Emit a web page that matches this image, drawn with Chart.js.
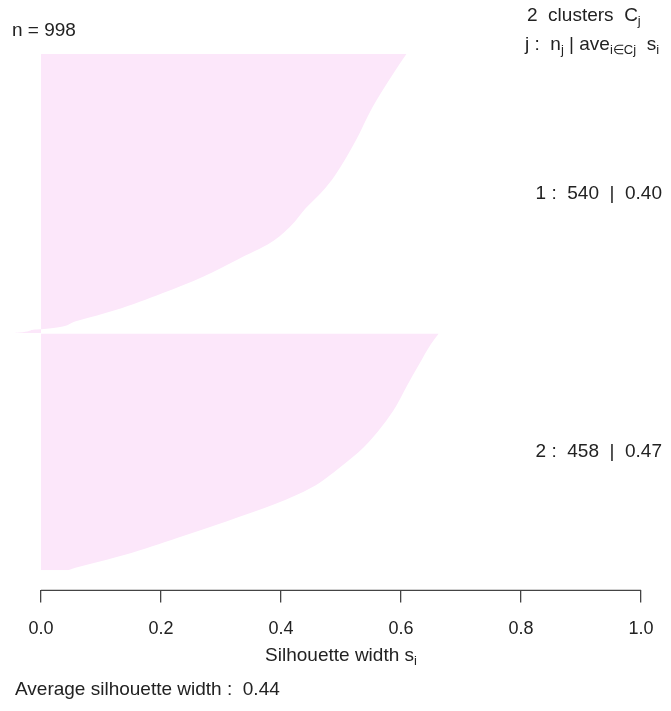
<!DOCTYPE html>
<html>
<head>
<meta charset="utf-8">
<script src="https://cdn.jsdelivr.net/npm/chart.js@4.4.1/dist/chart.umd.min.js"></script>
<style>
  body { margin: 0; background: #fff; }
  canvas { display: block; }
</style>
</head>
<body>
<canvas id="silPlot" width="671" height="711"></canvas>
<script>
// silhouette of 2 clusters, bars sorted by width inside each cluster
const nObs = 998;
const clusterIds = [1, 2];
const clusterSizes = [540, 458];
const clusterAvg = [0.40, 0.47];
const avgWidth = 0.44;

// widths at some ranks (rank = row inside the cluster, from the top)
const c1Rank  = [0, 38, 104, 169, 235, 267, 300, 332, 365, 398, 431, 463, 496, 516, 532, 533, 536, 539, 540];
const c1Width = [0.609, 0.587, 0.552, 0.524, 0.490, 0.468, 0.440, 0.417, 0.383, 0.327, 0.270, 0.202, 0.123, 0.061, 0.005, -0.010, -0.020, -0.035, -0.045];
const c2Rank  = [0, 20, 60, 101, 140, 180, 220, 260, 298, 330, 363, 395, 428, 448, 456, 458];
const c2Width = [0.663, 0.650, 0.630, 0.610, 0.592, 0.568, 0.538, 0.497, 0.451, 0.390, 0.310, 0.228, 0.140, 0.075, 0.050, 0.045];

const xTicks = [0, 0.2, 0.4, 0.6, 0.8, 1.0];
const xTickLabels = ['0.0', '0.2', '0.4', '0.6', '0.8', '1.0'];

const pink = 'rgb(252, 231, 250)';
const ink = '#222';
const font = '"Liberation Sans", Arial, sans-serif';

// cluster 2 starts after cluster 1 plus one empty row
const c2Start = clusterSizes[0] + 1;

const pts1 = c1Rank.map((r, i) => ({ x: c1Width[i], y: r }));
const pts2 = c2Rank.map((r, i) => ({ x: c2Width[i], y: c2Start + r }));

// text with subscripts: parts = [[text, sub?], ...]
function richText(ctx, parts, x, y, align) {
    const big = '19px ' + font, small = '13px ' + font;
    let w = 0;
    parts.forEach(p => { ctx.font = p[1] ? small : big; w += ctx.measureText(p[0]).width; });
    let cx = align === 'right' ? x - w : align === 'center' ? x - w / 2 : x;
    ctx.textAlign = 'left';
    ctx.textBaseline = 'middle';
    parts.forEach(p => {
        ctx.font = p[1] ? small : big;
        ctx.fillText(p[0], cx, p[1] ? y + 5 : y);
        cx += ctx.measureText(p[0]).width;
    });
}

const annotations = {
    id: 'annotations',
    afterDraw(chart) {
        const ctx = chart.ctx;
        const xs = chart.scales.x, ys = chart.scales.y;
        const area = chart.chartArea;
        ctx.save();
        // axis line only from 0 to 1
        ctx.strokeStyle = '#444';
        ctx.lineWidth = 1.3;
        ctx.beginPath();
        ctx.moveTo(xs.getPixelForValue(0), area.bottom);
        ctx.lineTo(xs.getPixelForValue(1), area.bottom);
        ctx.stroke();

        ctx.fillStyle = ink;
        richText(ctx, [['n = ' + nObs, false]], 12, 31, 'left');
        richText(ctx, [[clusterIds.length + '  clusters  C', false], ['j', true]], 527, 16, 'left');
        richText(ctx, [['j :  n', false], ['j', true], [' | ave', false], ['i\u2208Cj', true], ['  s', false], ['i', true]], 525, 45, 'left');

        const mid1 = ys.getPixelForValue(clusterSizes[0] / 2);
        const mid2 = ys.getPixelForValue(c2Start + clusterSizes[1] / 2);
        [mid1, mid2].forEach((yy, k) => {
            const t = clusterIds[k] + ' :  ' + clusterSizes[k] + '  |  ' + clusterAvg[k].toFixed(2);
            richText(ctx, [[t, false]], 662, yy, 'right');
        });

        richText(ctx, [['Silhouette width s', false], ['i', true]], xs.getPixelForValue(0.5), 656, 'center');
        richText(ctx, [['Average silhouette width :  ' + avgWidth.toFixed(2), false]], 15, 690, 'left');
        ctx.restore();
    }
};

const sets = [pts1, pts2].map(p => ({
    data: p,
    fill: 'origin',
    backgroundColor: pink,
    borderColor: 'rgba(0,0,0,0)',
    borderWidth: 0,
    pointRadius: 0,
    cubicInterpolationMode: 'monotone'
}));

new Chart(document.getElementById('silPlot'), {
    type: 'line',
    data: { datasets: sets },
    options: {
        indexAxis: 'y',
        responsive: false,
        animation: false,
        events: [],
        layout: { padding: { left: 11, right: 30, top: 54, bottom: 55 } },
        plugins: { legend: { display: false }, tooltip: { enabled: false } },
        scales: {
            x: {
                type: 'linear',
                min: -0.05,
                max: 1.0,
                afterBuildTicks(scale) { scale.ticks = xTicks.map(v => ({ value: v })); },
                ticks: {
                    callback: (v) => xTickLabels[xTicks.indexOf(v)],
                    color: ink,
                    font: { family: font, size: 18 },
                    padding: 16,
                    maxRotation: 0,
                    autoSkip: false
                },
                grid: { drawOnChartArea: false, tickLength: 12, color: '#444', lineWidth: 1.3 },
                border: { display: false }
            },
            y: {
                type: 'linear',
                display: false,
                reverse: true,
                min: 0,
                max: 1038
            }
        }
    },
    plugins: [annotations]
});
</script>
</body>
</html>
